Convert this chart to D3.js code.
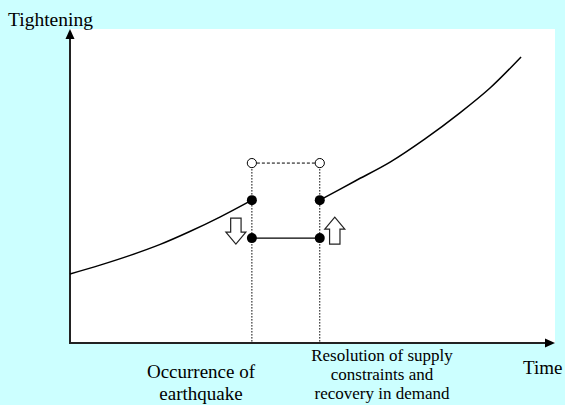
<!DOCTYPE html>
<html>
<head>
<meta charset="utf-8">
<script src="https://cdn.jsdelivr.net/npm/d3@7"></script>
<style>
  body { margin: 0; background: #ccffff; }
  svg { display: block; }
  text { font-family: "Liberation Serif", "Times New Roman", serif; fill: #000; }
</style>
</head>
<body>
<svg width="565" height="405"></svg>
<script>
// curve before the earthquake (time, tightening)
var beforeX = [0, 6.2, 12.4, 18.6, 24.7, 30.9, 37.5];
var beforeY = [22.0, 24.8, 27.9, 31.4, 35.5, 40.1, 45.5];
// curve after the supply constraints are resolved
var afterX = [51.5, 58.8, 66.0, 73.2, 80.4, 86.6, 93.0];
var afterY = [45.5, 51.6, 57.6, 65.0, 73.3, 81.2, 91.1];

var eventTimes = [37.5, 51.5];      // earthquake, resolution
var trendLevel = 45.5;              // filled dots on the curve
var dropLevel = 33.4;               // level after the earthquake
var hypoLevel = 57.3;               // open circles

var xLabel = "Time", yLabel = "Tightening";
var eventLabels = [
  ["Occurrence of", "earthquake"],
  ["Resolution of  supply", "constraints and", "recovery in demand"]
];

var svg = d3.select("svg"),
    width = +svg.attr("width"),
    height = +svg.attr("height");

var x = d3.scaleLinear().domain([0, 100]).range([70, 555]);
var y = d3.scaleLinear().domain([0, 100]).range([343, 29]);

// white plot area
svg.append("rect")
    .attr("x", x(0)).attr("y", y(100))
    .attr("width", x(100) - x(0)).attr("height", y(0) - y(100))
    .attr("fill", "#fff");

// axes with arrow heads
svg.append("line")
    .attr("x1", x(0)).attr("y1", y(0)).attr("x2", x(0)).attr("y2", y(100) + 8)
    .attr("stroke", "#222").attr("stroke-width", 2);
svg.append("line")
    .attr("x1", x(0) - 1).attr("y1", y(0)).attr("x2", x(100) - 8).attr("y2", y(0))
    .attr("stroke", "#222").attr("stroke-width", 2);
svg.append("path")
    .attr("d", "M" + x(0) + "," + y(100) + "l-4.5,10h9z")
    .attr("fill", "#000");
svg.append("path")
    .attr("d", "M" + x(100) + "," + y(0) + "l-10,-4.5v9z")
    .attr("fill", "#000");

// dotted verticals at the two events
svg.selectAll(".vline")
    .data(eventTimes)
    .enter()
    .append("line")
    .attr("class", "vline")
    .attr("x1", function (d) { return x(d); })
    .attr("x2", function (d) { return x(d); })
    .attr("y1", y(hypoLevel))
    .attr("y2", y(0))
    .attr("stroke", "#000")
    .attr("stroke-width", 1)
    .attr("stroke-dasharray", "1.5,1.5");

// dashed top line between open circles
svg.append("line")
    .attr("x1", x(eventTimes[0])).attr("x2", x(eventTimes[1]))
    .attr("y1", y(hypoLevel)).attr("y2", y(hypoLevel))
    .attr("stroke", "#000").attr("stroke-width", 1)
    .attr("stroke-dasharray", "3,2");

// solid line at the dropped level
svg.append("line")
    .attr("x1", x(eventTimes[0])).attr("x2", x(eventTimes[1]))
    .attr("y1", y(dropLevel)).attr("y2", y(dropLevel))
    .attr("stroke", "#000").attr("stroke-width", 1.3);

// curves
var line = d3.line()
    .x(function (d) { return x(d[0]); })
    .y(function (d) { return y(d[1]); })
    .curve(d3.curveCatmullRom.alpha(0.5));

svg.append("path")
    .datum(d3.zip(beforeX, beforeY))
    .attr("d", line)
    .attr("fill", "none").attr("stroke", "#000").attr("stroke-width", 1.5);
svg.append("path")
    .datum(d3.zip(afterX, afterY))
    .attr("d", line)
    .attr("fill", "none").attr("stroke", "#000").attr("stroke-width", 1.5);

// open circles
svg.selectAll(".open")
    .data(eventTimes)
    .enter()
    .append("circle")
    .attr("cx", function (d) { return x(d); })
    .attr("cy", y(hypoLevel))
    .attr("r", 4.6)
    .attr("fill", "#fff").attr("stroke", "#000").attr("stroke-width", 1);

// filled dots
var filled = [];
eventTimes.forEach(function (t) {
    filled.push([t, trendLevel]);
    filled.push([t, dropLevel]);
});
svg.selectAll(".dot")
    .data(filled)
    .enter()
    .append("circle")
    .attr("cx", function (d) { return x(d[0]); })
    .attr("cy", function (d) { return y(d[1]); })
    .attr("r", 5)
    .attr("fill", "#000");

// hollow block arrows (down at the earthquake, up at the resolution)
function blockArrow(cx, top, bottom, down) {
    var hw = 10, sw = 5.2, hl = 12;
    var p;
    if (down) {
        p = [[cx - sw, top], [cx + sw, top], [cx + sw, bottom - hl], [cx + hw, bottom - hl],
             [cx, bottom], [cx - hw, bottom - hl], [cx - sw, bottom - hl]];
    } else {
        p = [[cx - sw, bottom], [cx + sw, bottom], [cx + sw, top + hl], [cx + hw, top + hl],
             [cx, top], [cx - hw, top + hl], [cx - sw, top + hl]];
    }
    svg.append("path")
        .attr("d", "M" + p.join("L") + "Z")
        .attr("fill", "#fff").attr("stroke", "#222").attr("stroke-width", 1.2);
}
blockArrow(x(eventTimes[0]) - 16, y(dropLevel) - 20, y(dropLevel) + 6, true);
blockArrow(x(eventTimes[1]) + 15, y(dropLevel) - 21, y(dropLevel) + 6, false);

// labels
svg.append("text").text(yLabel)
    .attr("x", 8).attr("y", 26)
    .style("font-size", "19.5px");
svg.append("text").text(xLabel)
    .attr("x", 523).attr("y", 374)
    .style("font-size", "19px");

svg.append("text")
    .attr("text-anchor", "middle")
    .style("font-size", "19px")
    .selectAll("tspan")
    .data(eventLabels[0])
    .enter()
    .append("tspan")
    .attr("x", 201)
    .attr("y", function (d, i) { return 378 + i * 22; })
    .text(function (d) { return d; });

svg.append("text")
    .attr("text-anchor", "middle")
    .style("font-size", "17px")
    .selectAll("tspan")
    .data(eventLabels[1])
    .enter()
    .append("tspan")
    .attr("x", 382)
    .attr("y", function (d, i) { return 361 + i * 19; })
    .text(function (d) { return d; });
</script>
</body>
</html>
